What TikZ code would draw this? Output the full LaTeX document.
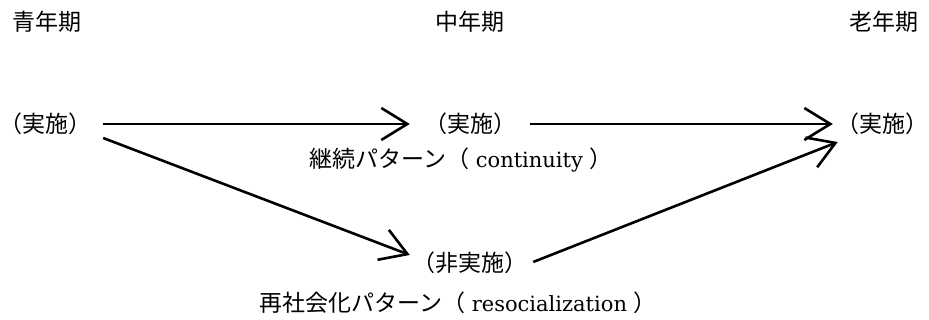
\documentclass[tikz,border=0pt]{standalone}
\usepackage{fontspec}
\newfontfamily\jp{Noto Sans CJK JP}
\newfontfamily\latinserif{DejaVu Serif}
\usetikzlibrary{arrows.meta,calc}
\tikzset{
  lbl/.style={inner sep=0pt, font=\fontsize{23}{26}\selectfont\jp},
  captext/.style={inner sep=0pt, font=\fontsize{21}{26}\selectfont\latinserif},
  conn/.style={line width=2.6pt, -{Straight Barb[length=26pt,width=32pt]}}
}
\newcommand{\jpbig}{\fontsize{23}{26}\selectfont\jp}
\begin{document}
\begin{tikzpicture}[x=1pt,y=1pt]
\useasboundingbox (0,0) rectangle (929,320);
% column headers
\node[lbl] (h1) at (47,298) {青年期};
\node[lbl] (h2) at (470,298) {中年期};
\node[lbl] (h3) at (884,298) {老年期};
% states
\node[lbl] (a1) at (45,196) {（実施）};
\node[lbl] (a2) at (470,196) {（実施）};
\node[lbl] (a3) at (882,196) {（実施）};
\node[lbl] (b) at (470,57) {（非実施）};
% pattern captions
\node[captext] (c1) at (461,160) {{\jpbig 継続パターン（} continuity {\jpbig ）}};
\node[captext] (c2) at (458,17) {{\jpbig 再社会化パターン（} resocialization {\jpbig ）}};
% connectors
\draw[conn, shorten <=12pt, shorten >=14pt] (a1.east) -- (a2.west);
\draw[conn, shorten <=14pt, shorten >=3pt] (a2.east) -- (a3.west);
\draw[conn] ($(a1.east)+(12,-14)$) -- ($(b.west)+(-2.5,8)$);
\draw[conn] ($(b.east)+(5.5,1)$) -- ($(a3.west)+(2,-18)$);
\end{tikzpicture}
\end{document}
